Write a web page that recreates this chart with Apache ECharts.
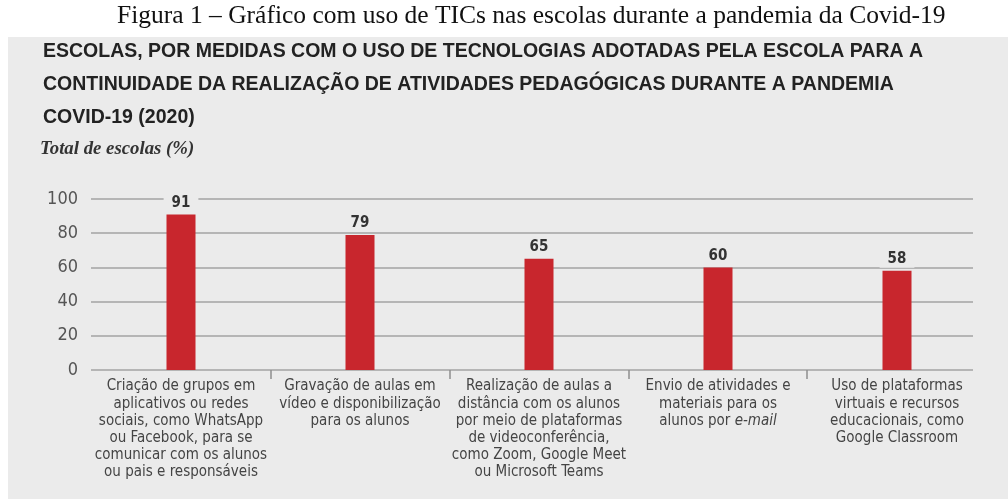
<!DOCTYPE html>
<html>
<head>
<meta charset="utf-8">
<script src="https://cdn.jsdelivr.net/npm/echarts@6/dist/echarts.min.js"></script>
<style>
  html, body { margin: 0; padding: 0; background: #ffffff; }
  #wrap { position: relative; width: 1008px; height: 499px; }
  #panel { position: absolute; left: 8px; top: 37px; right: 0; bottom: 0; background: #ebebeb; }
  #chart { position: absolute; left: 0; top: 0; width: 1008px; height: 499px; }
</style>
</head>
<body>
<div id="wrap">
  <div id="panel"></div>
  <div id="chart"></div>
</div>
<script>
const caption = 'Figura 1 – Gráfico com uso de TICs nas escolas durante a pandemia da Covid-19';
const titleLines = [
  'ESCOLAS, POR MEDIDAS COM O USO DE TECNOLOGIAS ADOTADAS PELA ESCOLA PARA A',
  'CONTINUIDADE DA REALIZAÇÃO DE ATIVIDADES PEDAGÓGICAS DURANTE A PANDEMIA',
  'COVID-19 (2020)'
];
const unitLabel = 'Total de escolas (%)';
const categories = [
  'Criação de grupos em\naplicativos ou redes\nsociais, como WhatsApp\nou Facebook, para se\ncomunicar com os alunos\nou pais e responsáveis',
  'Gravação de aulas em\nvídeo e disponibilização\npara os alunos',
  'Realização de aulas a\ndistância com os alunos\npor meio de plataformas\nde videoconferência,\ncomo Zoom, Google Meet\nou Microsoft Teams',
  'Envio de atividades e\nmateriais para os\nalunos por {i|e-mail}',
  'Uso de plataformas\nvirtuais e recursos\neducacionais, como\nGoogle Classroom'
];
const values = [91, 79, 65, 60, 58];
const yMin = 0, yMax = 100, yStep = 20;

const PANEL = '#ebebeb';
const narrow = '"DejaVu Sans Condensed", "Liberation Sans Narrow", sans-serif';
const boundaries = categories.slice(1).map(() => '');

const chart = echarts.init(document.getElementById('chart'), null, { renderer: 'canvas' });
chart.setOption({
  animation: false,
  title: [
    {
      text: caption, left: 112, top: -2,
      textStyle: { fontFamily: '"Liberation Serif", "Times New Roman", serif', fontSize: 25.5, fontWeight: 'normal', color: '#111' }
    },
    {
      text: titleLines.join('\n'), left: 38, top: 30,
      textStyle: { fontFamily: '"Liberation Sans", Arial, sans-serif', fontSize: 19.5, fontWeight: 'bold', color: '#222', lineHeight: 33 }
    },
    {
      text: unitLabel, left: 35, top: 135,
      textStyle: { fontFamily: '"Liberation Serif", serif', fontSize: 18.8, fontStyle: 'italic', fontWeight: 'bold', color: '#333' }
    }
  ],
  grid: [
    { left: 91.5, right: 21.5, top: 199, bottom: 129 },
    { left: 91, right: 35, top: 199, bottom: 129 },
    { left: 271, right: 201, top: 199, bottom: 129 }
  ],
  xAxis: [
    {
      type: 'category', gridIndex: 0, data: categories,
      axisLine: { show: false }, axisTick: { show: false },
      axisLabel: {
        interval: 0, margin: 8, fontFamily: narrow, fontSize: 15, lineHeight: 17.2, color: '#444', align: 'center',
        rich: { i: { fontFamily: narrow, fontSize: 15, fontStyle: 'italic', color: '#444', lineHeight: 17.2 } }
      }
    },
    { type: 'value', gridIndex: 1, show: false, min: 0, max: 1 },
    {
      type: 'category', gridIndex: 2, data: boundaries, boundaryGap: false,
      axisLine: { show: false }, axisLabel: { show: false },
      axisTick: { show: true, length: 9, lineStyle: { color: '#8e8e8e', width: 1.5 } }
    }
  ],
  yAxis: [
    { type: 'value', gridIndex: 0, min: yMin, max: yMax, interval: yStep, show: false },
    {
      type: 'value', gridIndex: 1, min: yMin, max: yMax, interval: yStep,
      axisLine: { show: false }, axisTick: { show: false },
      axisLabel: { margin: 13, fontFamily: narrow, fontSize: 18, color: '#555' },
      splitLine: { show: true, lineStyle: { color: '#a3a3a3', width: 1.5 } }
    },
    { type: 'value', gridIndex: 2, min: yMin, max: yMax, show: false }
  ],
  series: [
    {
      type: 'bar', xAxisIndex: 0, yAxisIndex: 0, data: values, barWidth: 29,
      itemStyle: { color: '#c8262d' }, z: 5,
      label: {
        show: true, position: 'top', distance: 3,
        fontFamily: narrow, fontSize: 15, fontWeight: 'bold', color: '#333',
        backgroundColor: PANEL, padding: [2, 8, 1, 8]
      }
    }
  ]
});
</script>
</body>
</html>
